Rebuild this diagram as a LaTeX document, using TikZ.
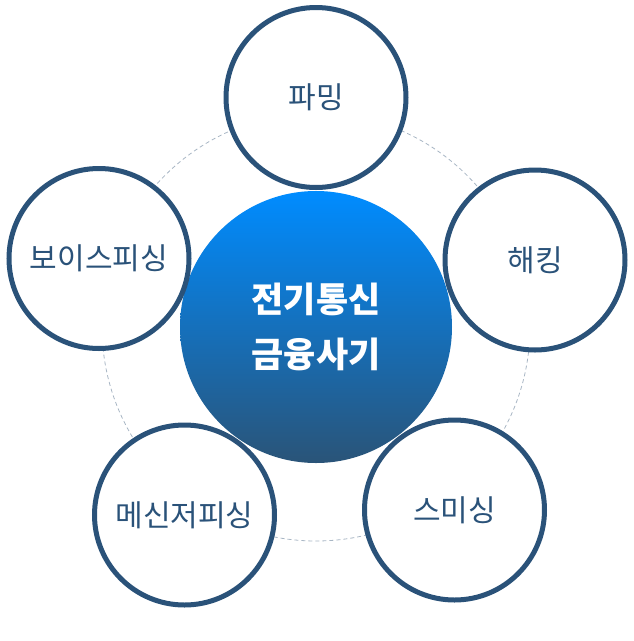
\documentclass[tikz,border=0pt]{standalone}
\usepackage{fontspec}
\setmainfont{Noto Sans CJK KR}
\definecolor{ringblue}{HTML}{2A5279}
\definecolor{dashgray}{HTML}{A8B6C4}
\definecolor{topblue}{HTML}{008CFF}
\definecolor{botblue}{HTML}{2A5478}
\begin{document}
\begin{tikzpicture}[x=1pt,y=-1pt,
  orbit/.style={draw=dashgray, line width=0.8pt, dash pattern=on 4pt off 3pt},
  hub/.style={circle, minimum size=272pt, inner sep=0pt, top color=topblue, bottom color=botblue,
    text=white, align=center, font=\bfseries\fontsize{35}{55}\selectfont},
  spoke/.style={circle, minimum size=180pt, inner sep=0pt, draw=ringblue, line width=5pt, fill=white,
    text=ringblue, font=\fontsize{30}{34}\selectfont}]
\useasboundingbox (0,0) rectangle (634,641);
\coordinate (c) at (316,327);
\draw[orbit] (c) circle[radius=214pt];
\node[hub] (hub) at (c) {전기통신\\금융사기};
\node[spoke] (farming) at (316,97.5) {파밍};
\node[spoke] (hacking) at (535,260) {해킹};
\node[spoke] (smishing) at (454.5,510) {스미싱};
\node[spoke] (messenger) at (184.5,515) {메신저피싱};
\node[spoke] (voice) at (99,258.5) {보이스피싱};
\end{tikzpicture}
\end{document}
